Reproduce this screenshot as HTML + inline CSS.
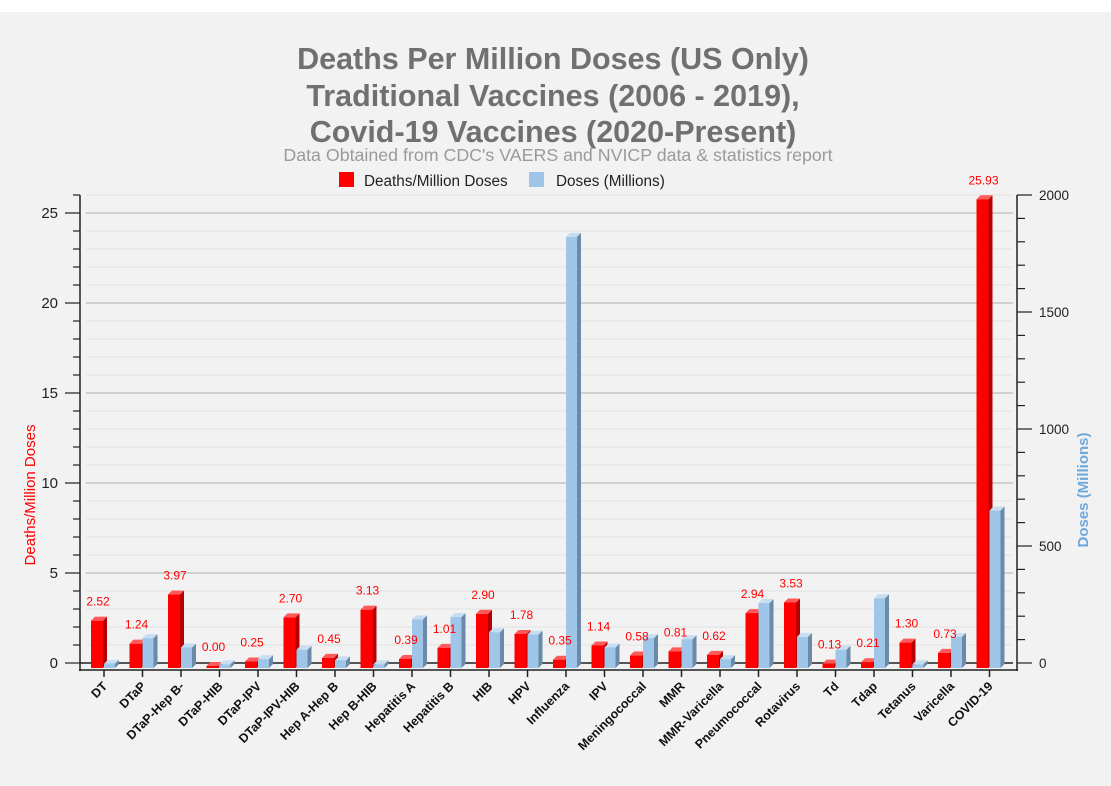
<!DOCTYPE html>
<html><head><meta charset="utf-8"><style>
html,body{margin:0;padding:0;background:#fff}
svg{display:block}
</style></head><body>
<svg id="c" width="1111" height="786" xmlns="http://www.w3.org/2000/svg" font-family="Liberation Sans, Arial, sans-serif">
<rect x="0" y="12" width="1111" height="774" fill="#f2f2f2"/>
<g font-weight="bold" font-size="30.5" fill="#707070" text-anchor="middle">
<text x="553" y="69">Deaths Per Million Doses (US Only)</text>
<text x="553" y="106">Traditional Vaccines (2006 - 2019),</text>
<text x="553" y="142">Covid-19 Vaccines (2020-Present)</text>
</g>
<text x="558" y="161" text-anchor="middle" font-size="17.8" fill="#9a9a9a">Data Obtained from CDC's VAERS and NVICP data &amp; statistics report</text>
<g font-size="15.3" fill="#222">
<g><rect x="339" y="172" width="15" height="15" fill="#ff0000"/><text x="364" y="186">Deaths/Million Doses</text></g>
<g><rect x="529" y="172" width="15" height="15" fill="#9fc5e8"/><text x="556" y="186">Doses (Millions)</text></g>
</g>
<g id="grid"></g>
<g id="bars"></g>
<g id="axes"></g>
<text transform="translate(35,495) rotate(-90)" text-anchor="middle" font-size="15" fill="#ff0000">Deaths/Million Doses</text>
<text transform="translate(1088,490) rotate(-90)" text-anchor="middle" font-size="15" font-weight="bold" fill="#6fa8dc">Doses (Millions)</text>
</svg>
<script>
const categories=["DT","DTaP","DTaP-Hep B-","DTaP-HIB","DTaP-IPV","DTaP-IPV-HIB","Hep A-Hep B","Hep B-HIB","Hepatitis A","Hepatitis B","HIB","HPV","Influenza","IPV","Meningococcal","MMR","MMR-Varicella","Pneumococcal","Rotavirus","Td","Tdap","Tetanus","Varicella","COVID-19"];
const deaths=[2.52,1.24,3.97,0.00,0.25,2.70,0.45,3.13,0.39,1.01,2.90,1.78,0.35,1.14,0.58,0.81,0.62,2.94,3.53,0.13,0.21,1.30,0.73,25.93];
const doses=[5,115,75,3,25,65,20,3,195,205,140,130,1830,75,115,110,25,265,120,65,285,3,120,660];
const leftTicks=[0,5,10,15,20,25];
const rightTicks=[0,500,1000,1500,2000];
const NS="http://www.w3.org/2000/svg";
function mk(t,a,p){const e=document.createElementNS(NS,t);for(const k in a)e.setAttribute(k,a[k]);p.appendChild(e);return e;}
const y0=663,yTop=195;
const yL=v=>y0-(y0-yTop)*v/26;
const yR=v=>y0-(y0-yTop)*v/2000;
const xC=i=>104+i*38.5;
const grid=document.getElementById('grid'),bars=document.getElementById('bars'),axes=document.getElementById('axes');
for(let v=0;v<=26;v++){
  const l=mk('line',{x1:86,x2:1013,y1:yL(v),y2:yL(v),stroke:v%5===0?'#c4c4c4':'#e2e2e2','stroke-width':v%5===0?1.5:1},grid);
  
  
}
mk('line',{x1:80,x2:1013,y1:y0,y2:y0,stroke:'#555','stroke-width':2},grid);
const D=4;
function bar(x,w,yt,front,side,top,name){
  const g=mk('g',{},bars);
  
  
  const yb=668;
  mk('polygon',{points:`${x+w},${yt} ${x+w+D},${yt-D} ${x+w+D},${yb-D} ${x+w},${yb}`,fill:side},g);
  mk('polygon',{points:`${x},${yt} ${x+D},${yt-D} ${x+w+D},${yt-D} ${x+w},${yt}`,fill:top},g);
  mk('rect',{x:x,y:yt,width:w,height:Math.max(yb-yt,0.5),fill:front},g);
}
categories.forEach((c,i)=>{
  const cx=xC(i);
  let yd=Math.min(yL(deaths[i])+3,666);
  let yb=Math.min(yR(doses[i])+2,666);
  bar(cx-13,12,yd,'#ff0000','#b80000','#ff5a5a','bar-deaths-'+c);
  bar(cx,11,yb,'#9fc5e8','#6a8aa8','#c7def2','bar-doses-'+c);
  const t=mk('text',{x:cx-6,y:yL(deaths[i])-12,'text-anchor':'middle','font-size':12,fill:'#ff0000'},bars);
  
  
  t.textContent=deaths[i].toFixed(2);
  mk('line',{x1:cx,x2:cx,y1:670,y2:677,stroke:'#222','stroke-width':1.5},axes);
  const lb=mk('text',{transform:`translate(${cx+4},${687}) rotate(-45)`,'text-anchor':'end','font-size':12.5,'font-weight':'bold',fill:'#111'},axes);
  
  
  lb.textContent=c;
});
mk('line',{x1:80,x2:80,y1:195,y2:671,stroke:'#222','stroke-width':1.5},axes);
mk('line',{x1:79,x2:1018,y1:670,y2:670,stroke:'#222','stroke-width':1.5},axes);
mk('line',{x1:1017,x2:1017,y1:195,y2:671,stroke:'#222','stroke-width':1.5},axes);
for(let v=0;v<=26;v++){mk('line',{x1:v%5===0?65:73,x2:80,y1:yL(v),y2:yL(v),stroke:'#222','stroke-width':1.2},axes);}
leftTicks.forEach(v=>{const t=mk('text',{x:58,y:yL(v)+5,'text-anchor':'end','font-size':15,fill:'#222'},axes);
  
  
  t.textContent=v;});
for(let v=0;v<=2000;v+=100){mk('line',{x1:1017,x2:v%500===0?1032:1025,y1:yR(v),y2:yR(v),stroke:'#222','stroke-width':1.2},axes);}
rightTicks.forEach(v=>{const t=mk('text',{x:1039,y:yR(v)+5,'font-size':13.5,fill:'#222'},axes);
  
  
  t.textContent=v;});
</script>
</body></html>
